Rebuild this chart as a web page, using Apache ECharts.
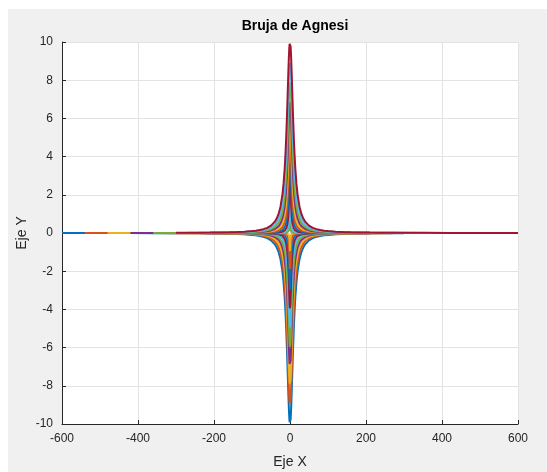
<!DOCTYPE html>
<html>
<head>
<meta charset="utf-8">
<script src="https://cdn.jsdelivr.net/npm/echarts@6/dist/echarts.min.js"></script>
<style>
  html, body { margin: 0; padding: 0; background: #ffffff; }
  #figure { position: absolute; left: 8px; top: 9px; width: 539px; height: 463px; background: #f0f0f0; }
  #chart { position: absolute; left: 0; top: 0; width: 547px; height: 472px; }
</style>
</head>
<body>
<div id="figure"></div>
<div id="chart"></div>
<script>
// Family of Agnesi witches: each curve has its peak height p at x = 0
// and is drawn over its own x interval [xFrom, xTo].
const peaks = [-10, -9, -8, -7, -6, -5, -4, -3, -2, -1, 0, 1, 2, 3, 4, 5, 6, 7, 8, 9, 10];
const xFrom = [-600, -540, -480, -420, -360, -300, -240, -180, -120, -60, 0, -30, -60, -90, -120, -150, -180, -210, -240, -270, -300];
const xTo   = [300, 270, 240, 210, 180, 150, 120, 90, 60, 30, 0, 60, 120, 180, 240, 300, 360, 420, 480, 540, 600];

// Sample abscissae, dense near the peak.
const xSamples = [
  -600, -540, -480, -420, -360, -300, -270, -240, -210, -180, -160, -150, -140, -120, -100, -90, -80, -70, -60,
  -50, -40, -35, -30, -25, -20, -17, -14, -12, -10, -8, -7, -6, -5, -4, -3, -2.5, -2, -1.5, -1, -0.75, -0.5, -0.25,
  0, 0.25, 0.5, 0.75, 1, 1.5, 2, 2.5, 3, 4, 5, 6, 7, 8, 10, 12, 14, 17, 20, 25, 30, 35, 40, 50,
  60, 70, 80, 90, 100, 120, 140, 150, 160, 180, 210, 240, 270, 300, 360, 420, 480, 540, 600
];

// Tick values
const xTicks = [-600, -400, -200, 0, 200, 400, 600];
const yTicks = [-10, -8, -6, -4, -2, 0, 2, 4, 6, 8, 10];

const palette = ['#0072BD', '#D95319', '#EDB120', '#7E2F8E', '#77AC30', '#4DBEEE', '#A2142F'];

// Witch of Agnesi with peak p: y = p / (1 + (x / p)^2)  (i.e. 8a^3 / (x^2 + 4a^2), p = 2a)
function witch(p, lo, hi) {
  const pts = [];
  xSamples.forEach(function (x) {
    if (x >= lo && x <= hi) pts.push([x, p / (1 + (x / p) * (x / p))]);
  });
  return pts;
}

const series = [];
peaks.forEach(function (p, i) {
  if (p === 0) return; // degenerate curve, nothing drawn
  series.push({
    type: 'line',
    data: witch(p, xFrom[i], xTo[i]),
    showSymbol: false,
    symbol: 'none',
    silent: true,
    clip: true,
    lineStyle: { color: palette[i % palette.length], width: 2 },
    z: 2
  });
});

const chart = echarts.init(document.getElementById('chart'), null, { renderer: 'canvas' });
const FONT = 'Liberation Sans, Arial, sans-serif';
const tickText = { color: '#262626', fontSize: 12, fontFamily: FONT };

chart.setOption({
  animation: false,
  backgroundColor: 'transparent',
  title: {
    text: 'Bruja de Agnesi',
    left: 290,
    top: 14,
    textAlign: 'center',
    textStyle: { color: '#000000', fontSize: 14, fontWeight: 'bold', fontFamily: FONT }
  },
  grid: {
    left: 62, right: 29, top: 42, bottom: 48,
    show: true, backgroundColor: '#ffffff', borderWidth: 0
  },
  xAxis: {
    type: 'value', min: xTicks[0], max: xTicks[xTicks.length - 1], interval: 200,
    axisLine: { show: true, onZero: false, lineStyle: { color: '#262626', width: 1 } },
    axisTick: { show: true, inside: true, length: 4, lineStyle: { color: '#262626' } },
    axisLabel: Object.assign({ margin: 9 }, tickText),
    splitLine: { show: true, lineStyle: { color: '#e3e3e3', width: 1 } }
  },
  yAxis: {
    type: 'value', min: yTicks[0], max: yTicks[yTicks.length - 1], interval: 2,
    axisLine: { show: true, onZero: false, lineStyle: { color: '#262626', width: 1 } },
    axisTick: { show: true, inside: true, length: 4, lineStyle: { color: '#262626' } },
    axisLabel: Object.assign({ margin: 9 }, tickText),
    splitLine: { show: true, lineStyle: { color: '#e3e3e3', width: 1 } }
  },
  graphic: [
    {
      type: 'text',
      x: 290, y: 462,
      style: { text: 'Eje X', fill: '#262626', fontSize: 14, fontFamily: FONT,
               textAlign: 'center', textVerticalAlign: 'middle' }
    },
    {
      type: 'text',
      x: 22, y: 233, rotation: Math.PI / 2,
      style: { text: 'Eje Y', fill: '#262626', fontSize: 14, fontFamily: FONT,
               textAlign: 'center', textVerticalAlign: 'middle' }
    }
  ],
  series: series
});
</script>
</body>
</html>
